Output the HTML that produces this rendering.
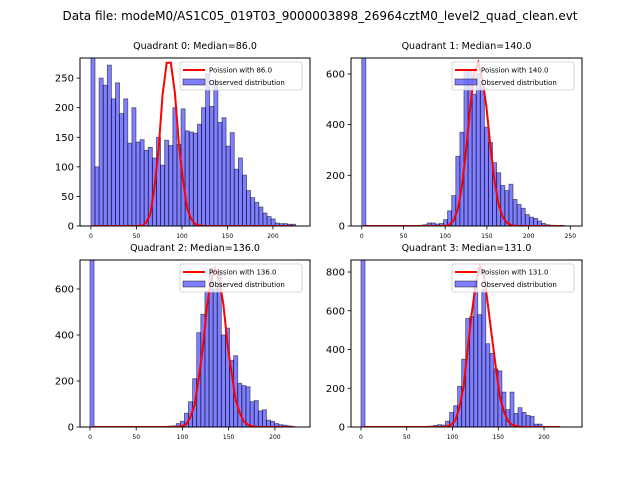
<!DOCTYPE html>
<html><head><meta charset="utf-8"><style>
body{margin:0;background:#fff;}
svg{display:block;font-family:"DejaVu Sans","Liberation Sans",sans-serif;}
</style></head><body>
<svg id="fig" width="640" height="480" viewBox="0 0 640 480">
<rect width="640" height="480" fill="#fff"/>
<text x="320" y="20" text-anchor="middle" font-size="12">Data file: modeM0/AS1C05_019T03_9000003898_26964cztM0_level2_quad_clean.evt</text>
</svg>
<script>
const medians = [86.0, 140.0, 136.0, 131.0];
const xMaxData = [225, 245, 222, 220];
const xLimLo = [-12, -12.9, -10.8, -10.9];
const xLimHi = [240.7, 264, 238, 241.5];
const yTop = [284, 663, 726, 862];
const yTicks0 = [0, 50, 100, 150, 200, 250];
const yTicks1 = [0, 200, 400, 600];
const yTicks2 = [0, 200, 400, 600];
const yTicks3 = [0, 200, 400, 600, 800];
const xTicks0 = [0, 50, 100, 150, 200];
const xTicks1 = [0, 50, 100, 150, 200, 250];
const poissonPeak = [276, 645, 690, 830];
const counts0 = [1500,100,250,238,272,215,242,190,215,140,200,142,146,128,133,115,150,103,145,136,200,138,198,161,159,157,172,200,258,202,245,175,183,135,158,96,115,86,60,48,40,32,22,16,12,5,4,4,3,3];
const counts1 = [3000,0,0,0,0,0,0,0,0,0,0,1,1,2,3,5,12,12,8,10,25,60,120,275,370,620,610,520,600,560,390,330,250,210,160,140,165,105,85,70,45,35,30,20,10,5,3,2,1,1];
const counts2 = [3000,0,0,0,0,0,0,0,0,0,0,0,0,0,0,0,0,2,3,4,5,15,25,60,110,210,410,490,590,690,600,680,400,430,290,310,190,180,175,110,115,70,75,30,25,15,10,8,5,2];
const counts3 = [3000,0,0,0,0,0,0,0,0,0,0,0,0,0,0,3,4,5,8,12,10,30,75,110,210,350,560,570,720,580,710,430,380,300,290,180,90,180,70,100,75,60,55,15,15,2,0,0,0,0];

const svg = document.getElementById('fig');
const NS = 'http://www.w3.org/2000/svg';
function mk(tag, attrs, parent){const e=document.createElementNS(NS,tag);for(const k in attrs)e.setAttribute(k,attrs[k]);parent.appendChild(e);return e;}

const panels = [
 {L:80,T:58,W:230,H:168,counts:counts0,yt:yTicks0,xt:xTicks0},
 {L:351,T:58,W:231,H:168,counts:counts1,yt:yTicks1,xt:xTicks1},
 {L:80,T:260,W:230,H:167,counts:counts2,yt:yTicks2,xt:xTicks0},
 {L:351,T:260,W:231,H:167,counts:counts3,yt:yTicks3,xt:xTicks0}
];

panels.forEach((p,i)=>{
  const g = mk('g',{},svg);
  
  
  const xmax = xMaxData[i];
  const lo = xLimLo[i], hi = xLimHi[i];
  const x = v => p.L + (v-lo)/(hi-lo)*p.W;
  const y = v => p.T + p.H - v/yTop[i]*p.H;
  const t = mk('text',{x:p.L+p.W/2,y:p.T-9,'text-anchor':'middle','font-size':'9.5'},g);
  t.textContent = 'Quadrant '+i+': Median='+medians[i].toFixed(1);
  
  
  const cid='clip'+i;
  const cp = mk('clipPath',{id:cid},g);
  mk('rect',{x:p.L,y:p.T,width:p.W,height:p.H},cp);
  const bars = mk('g',{'clip-path':'url(#'+cid+')'},g);
  const n = p.counts.length, bw = xmax/n;
  p.counts.forEach((c,k)=>{
    if(c<=0) return;
    const b = mk('rect',{x:x(k*bw),y:y(c),width:x((k+1)*bw)-x(k*bw),height:y(0)-y(c),fill:'rgba(0,0,255,0.5)',stroke:'rgba(0,0,0,0.55)','stroke-width':'0.8'},bars);
    
    
  });
  const lam = medians[i];
  const logpmf = m => { let s=0; for(let j=1;j<=m;j++) s+=Math.log(j); return m*Math.log(lam)-lam-s; };
  let maxp = 0; const pts=[];
  for(let k=0;k<n;k++){const m=Math.round((k+0.5)*bw);const v=Math.exp(logpmf(m));pts.push([(k+0.5)*bw,v]);if(v>maxp)maxp=v;}
  const d = pts.map((q,j)=>(j?'L':'M')+x(q[0]).toFixed(1)+','+y(q[1]/maxp*poissonPeak[i]).toFixed(1)).join(' ');
  const pl = mk('path',{d:d,fill:'none',stroke:'#ff0000','stroke-width':'2'},bars);
  
  
  const fr = mk('rect',{x:p.L,y:p.T,width:p.W,height:p.H,fill:'none',stroke:'#000','stroke-width':'1'},g);
  
  
  p.yt.forEach(v=>{
    mk('line',{x1:p.L-3.5,x2:p.L,y1:y(v),y2:y(v),stroke:'#000','stroke-width':'0.8'},g);
    const tl = mk('text',{x:p.L-6,y:y(v)+3.5,'text-anchor':'end','font-size':'10'},g);
    tl.textContent=v;
    
    
  });
  p.xt.forEach(v=>{
    mk('line',{x1:x(v),x2:x(v),y1:p.T+p.H,y2:p.T+p.H+3.5,stroke:'#000','stroke-width':'0.8'},g);
    const tl = mk('text',{x:x(v),y:p.T+p.H+12,'text-anchor':'middle','font-size':'6'},g);
    tl.textContent=v;
    
    
  });
  const lx = p.L+p.W-130, ly = p.T+4;
  const lg = mk('g',{},g);
  
  
  mk('rect',{x:lx,y:ly,width:122,height:28,rx:2,fill:'rgba(255,255,255,0.8)',stroke:'#ccc','stroke-width':'0.8'},lg);
  mk('line',{x1:lx+3,x2:lx+25,y1:ly+8,y2:ly+8,stroke:'#ff0000','stroke-width':'2'},lg);
  const l1 = mk('text',{x:lx+29,y:ly+10.5,'font-size':'7'},lg);
  l1.textContent='Poission with '+medians[i].toFixed(1);
  
  
  mk('rect',{x:lx+3,y:ly+17,width:22,height:6,fill:'rgba(0,0,255,0.5)',stroke:'rgba(0,0,0,0.55)','stroke-width':'0.8'},lg);
  const l2 = mk('text',{x:lx+29,y:ly+23,'font-size':'7'},lg);
  l2.textContent='Observed distribution';
  
  
});
</script>
</body></html>
